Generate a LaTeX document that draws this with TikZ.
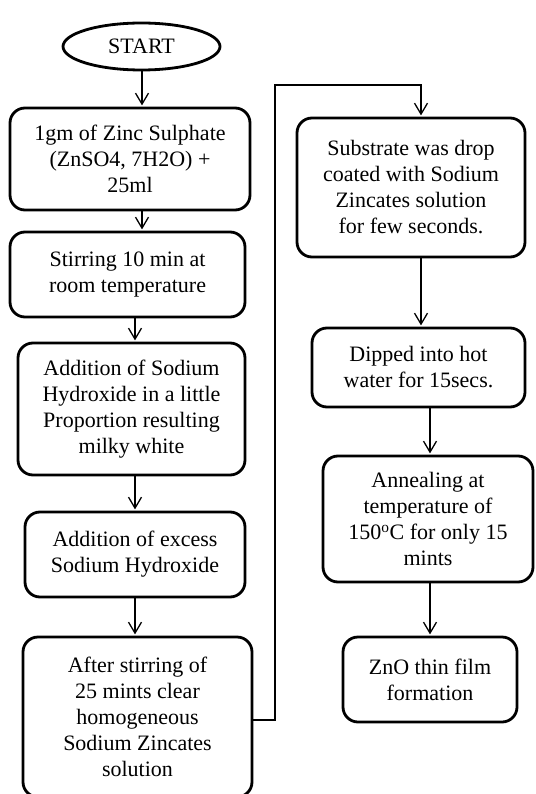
\documentclass[tikz,border=0pt]{standalone}
\usepackage{fontspec}
\setmainfont{Liberation Serif}
\usetikzlibrary{shapes.geometric,arrows.meta}
\begin{document}
\begin{tikzpicture}[x=1pt,y=-1pt,
  every node/.style={font=\fontsize{22}{26}\selectfont},
  stepbox/.style={draw,rounded corners=15pt,line width=2.8pt,align=center,inner sep=0pt},
  startshape/.style={draw,ellipse,line width=2.8pt,inner sep=0pt},
  arr/.style={line width=1.3pt,-{Straight Barb[length=11pt,width=13pt]},shorten >=1.2pt},
  conn/.style={line width=1.3pt}]
\useasboundingbox (0,0) rectangle (535,794);
\node[startshape,minimum width=157pt,minimum height=47pt] (start) at (141.5,46.5) {START};
\node[stepbox,minimum width=240pt,minimum height=102pt] (b1) at (130,159) {1gm of Zinc Sulphate\\(ZnSO4, 7H2O) +\\25ml};
\node[stepbox,minimum width=235pt,minimum height=85pt] (b2) at (127.5,274.5) {Stirring 10 min at\\room temperature};
\node[stepbox,minimum width=227pt,minimum height=132pt] (b3) at (131.5,409) {Addition of Sodium\\Hydroxide in a little\\Proportion resulting\\milky white};
\node[stepbox,minimum width=220pt,minimum height=85pt] (b4) at (135,554.5) {Addition of excess\\Sodium Hydroxide};
\node[stepbox,minimum width=229pt,minimum height=160pt] (b5) at (137.5,717) {After stirring of\\25 mints clear\\homogeneous\\Sodium Zincates\\solution};
\node[stepbox,minimum width=228pt,minimum height=139pt] (b6) at (411,187.5) {Substrate was drop\\coated with Sodium\\Zincates solution\\for few seconds.};
\node[stepbox,minimum width=213pt,minimum height=79pt] (b7) at (418.5,367.5) {Dipped into hot\\water for 15secs.};
\node[stepbox,minimum width=210pt,minimum height=126pt] (b8) at (428,519) {Annealing at\\temperature of\\150\textsuperscript{o}C for only 15\\mints};
\node[stepbox,minimum width=174pt,minimum height=85pt] (b9) at (430,679.5) {ZnO thin film\\formation};
\coordinate (xa) at (142,0);
\coordinate (xb) at (135,0);
\coordinate (xc) at (421,0);
\coordinate (xd) at (430,0);
\coordinate (c1) at (275,720);
\coordinate (c2) at (275,85);
\draw[arr] (start.south -| xa) -- (b1.north -| xa);
\draw[arr] (b1.south -| xa) -- (b2.north -| xa);
\draw[arr] (b2.south -| xb) -- (b3.north -| xb);
\draw[arr] (b3.south -| xb) -- (b4.north -| xb);
\draw[arr] (b4.south -| xb) -- (b5.north -| xb);
\draw[arr] (b5.east |- c1) -- (c1) -- (c2) -| (b6.north -| xc);
\draw[arr] (b6.south -| xc) -- (b7.north -| xc);
\draw[arr] (b7.south -| xd) -- (b8.north -| xd);
\draw[arr] (b8.south -| xd) -- (b9.north -| xd);
\end{tikzpicture}
\end{document}
